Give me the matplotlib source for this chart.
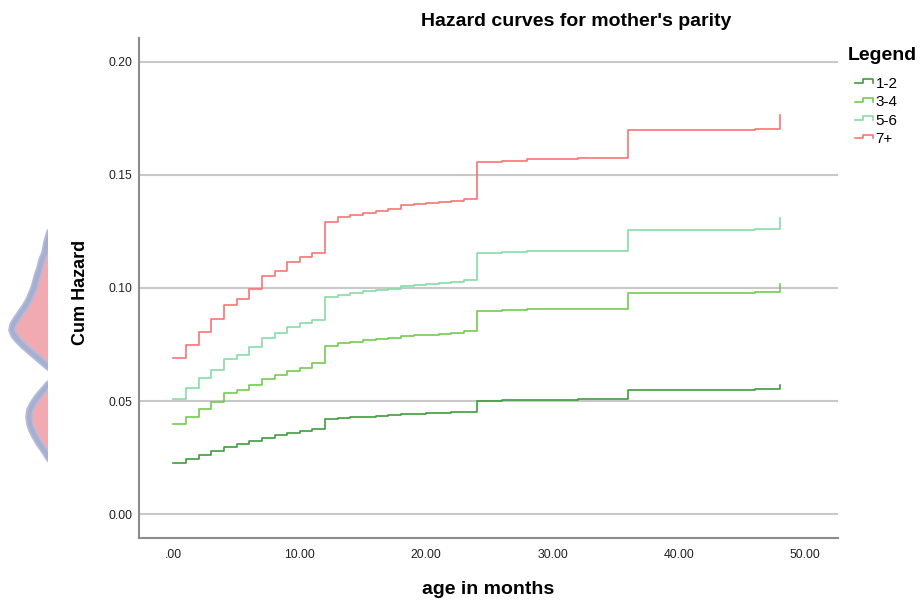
import numpy as np
import matplotlib
matplotlib.use('Agg')
import matplotlib.pyplot as plt
from matplotlib.legend_handler import HandlerBase
from matplotlib.lines import Line2D
from matplotlib.patches import Polygon
from matplotlib.ticker import FuncFormatter

plt.rcParams['font.family'] = ['Liberation Sans', 'DejaVu Sans']

# =============================================================================
# Data
# =============================================================================
months = [0, 1, 2, 3, 4, 5, 6, 7, 8, 9, 10, 11, 12, 13, 14, 15, 16, 17, 18,
          19, 20, 21, 22, 23, 24, 26, 28, 32, 36, 46, 48]

haz_1_2 = [0.0224, 0.0242, 0.0260, 0.0279, 0.0298, 0.0310, 0.0322, 0.0336,
           0.0348, 0.0360, 0.0367, 0.0375, 0.0419, 0.0425, 0.0429, 0.0431,
           0.0434, 0.0437, 0.0442, 0.0444, 0.0446, 0.0447, 0.0450, 0.0453,
           0.0501, 0.0503, 0.0505, 0.0508, 0.0549, 0.0552, 0.0571]
haz_3_4 = [0.0398, 0.0431, 0.0463, 0.0497, 0.0534, 0.0549, 0.0571, 0.0596,
           0.0615, 0.0633, 0.0647, 0.0667, 0.0745, 0.0755, 0.0762, 0.0770,
           0.0774, 0.0779, 0.0788, 0.0791, 0.0793, 0.0796, 0.0802, 0.0808,
           0.0900, 0.0903, 0.0905, 0.0906, 0.0977, 0.0981, 0.1016]
haz_5_6 = [0.0509, 0.0556, 0.0603, 0.0637, 0.0686, 0.0704, 0.0738, 0.0777,
           0.0800, 0.0826, 0.0844, 0.0858, 0.0959, 0.0969, 0.0980, 0.0987,
           0.0991, 0.0997, 0.1010, 0.1013, 0.1018, 0.1022, 0.1028, 0.1034,
           0.1156, 0.1159, 0.1162, 0.1164, 0.1257, 0.1261, 0.1308]
haz_7p = [0.0692, 0.0748, 0.0804, 0.0863, 0.0925, 0.0951, 0.0996, 0.1054,
          0.1075, 0.1116, 0.1136, 0.1156, 0.1294, 0.1313, 0.1323, 0.1333,
          0.1341, 0.1350, 0.1367, 0.1370, 0.1375, 0.1379, 0.1386, 0.1394,
          0.1559, 0.1562, 0.1569, 0.1574, 0.1697, 0.1702, 0.1765]

groups = ['1-2', '3-4', '5-6', '7+']
colors = ['#3f9c3f', '#72cc50', '#86dca4', '#f87474']

x_ticks = [0, 10, 20, 30, 40, 50]
y_ticks = [0.00, 0.05, 0.10, 0.15, 0.20]

# decorative half-violin on the left edge (figure pixels: y, left x)
blob1_y = [232, 242, 253, 260, 268, 277, 285, 293, 300, 307, 314, 320, 325,
           330, 335, 340, 346, 352, 358, 364, 372]
blob1_x = [50, 47, 45, 42, 40, 37, 35, 32, 29, 25, 20, 16, 13,
           12, 14, 18, 24, 31, 38, 45, 55]
blob2_y = [378, 385, 392, 398, 404, 410, 417, 424, 430, 436, 443, 450, 458,
           466]
blob2_x = [56, 48, 42, 37, 33, 30, 29, 30, 32, 35, 39, 44, 49, 56]


class StepHandle(HandlerBase):
    # little step icon like the SPSS legend
    def create_artists(self, legend, orig_handle, xdescent, ydescent,
                       width, height, fontsize, trans):
        x0 = -xdescent
        lo = -ydescent + 0.45 * height
        hi = -ydescent + 0.80 * height
        xs = [x0, x0 + 0.45 * width, x0 + 0.45 * width, x0 + width, x0 + width]
        ys = [lo, lo, hi, hi, lo]
        ln = Line2D(xs, ys, color=orig_handle.get_color(),
                    lw=orig_handle.get_linewidth())
        ln.set_transform(trans)
        return [ln]


# =============================================================================
# Plot
# =============================================================================
W, H = 922, 602
fig = plt.figure(figsize=(W / 100, H / 100), dpi=100)
ax = fig.add_axes([139 / W, 1 - 538 / H, 699 / W, 500 / H])

series = [haz_1_2, haz_3_4, haz_5_6, haz_7p]
for name, vals, c in zip(groups, series, colors):
    ax.step(months, vals, where='post', color=c, lw=1.2, label=name)

ax.set_xlim(-2.73, 52.6)
ax.set_ylim(-0.0106, 0.2106)
ax.set_xticks(x_ticks)
ax.set_yticks(y_ticks)
ax.xaxis.set_major_formatter(FuncFormatter(
    lambda v, p: '.00' if v == 0 else '%.2f' % v))
ax.yaxis.set_major_formatter(FuncFormatter(lambda v, p: '%.2f' % v))
ax.tick_params(axis='both', length=0, labelsize=8.8, colors='#222222')
ax.tick_params(axis='y', pad=5)
ax.tick_params(axis='x', pad=8)

ax.set_axisbelow(True)
ax.yaxis.grid(True, color='#c8c8c8', lw=1.5)
for s in ['top', 'right']:
    ax.spines[s].set_visible(False)
for s in ['left', 'bottom']:
    ax.spines[s].set_color('#8c8c8c')
    ax.spines[s].set_linewidth(1.5)

fig.text(576 / W, 1 - 22 / H, "Hazard curves for mother's parity",
         ha='center', va='center', fontsize=14, fontweight='bold')
fig.text(80 / W, 1 - 292 / H, 'Cum Hazard', rotation=90, ha='center',
         va='center', fontsize=13, fontweight='bold')
fig.text(488 / W, 1 - 590 / H, 'age in months', ha='center', va='center',
         fontsize=14, fontweight='bold')

# legend
fig.text(848 / W, 1 - 55 / H, 'Legend', ha='left', va='center',
         fontsize=14, fontweight='bold')
fig.legend(loc='upper left', bbox_to_anchor=(855 / W, 1 - 77 / H),
           frameon=False, fontsize=11, handlelength=1.2,
           handletextpad=0.15, labelspacing=0.29, borderaxespad=0,
           borderpad=0, handler_map={Line2D: StepHandle()})

# left edge decoration
bx = fig.add_axes([0, 1 - 475 / H, 48 / W, 265 / H])
bx.set_xlim(0, 48)
bx.set_ylim(475, 210)
bx.axis('off')
for ys, xs in [(blob1_y, blob1_x), (blob2_y, blob2_x)]:
    pts = np.column_stack([xs + [80, 80], ys + [ys[-1], ys[0]]])
    bx.add_patch(Polygon(pts, closed=True, facecolor='#f2aab2',
                         edgecolor='none'))
    bx.plot(xs, ys, color='#b4bcd8', lw=5.5,
            solid_capstyle='round', solid_joinstyle='round')
    bx.plot(xs, ys, color='#a6afcf', lw=3.0,
            solid_capstyle='round', solid_joinstyle='round')

fig.savefig('out.png', dpi=100)
